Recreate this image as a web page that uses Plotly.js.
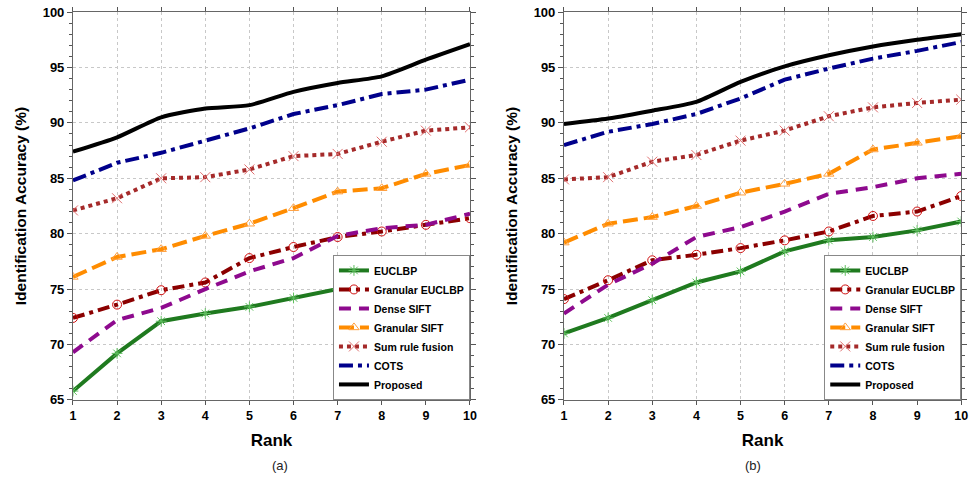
<!DOCTYPE html>
<html><head><meta charset="utf-8">
<script src="https://cdn.plot.ly/plotly-3.0.1.min.js"></script>
<style>html,body{margin:0;padding:0;background:#fff}#chart{width:969px;height:483px}</style>
</head><body><div id="chart"></div>
<script>
const ranks = [1,2,3,4,5,6,7,8,9,10];
const seriesNames = ["EUCLBP","Granular EUCLBP","Dense SIFT","Granular SIFT","Sum rule fusion","COTS","Proposed"];
// Panel (a)
const a_EUCLBP       = [65.8,69.2,72.1,72.8,73.4,74.2,75.0,75.0,75.8,76.6];
const a_GranEUCLBP   = [72.4,73.6,74.9,75.6,77.8,78.8,79.7,80.2,80.8,81.4];
const a_DenseSIFT    = [69.3,72.2,73.3,75.0,76.6,77.8,79.8,80.5,80.8,81.8];
const a_GranSIFT     = [76.1,77.9,78.6,79.8,80.9,82.3,83.8,84.1,85.4,86.2];
const a_SumRule      = [82.1,83.2,85.0,85.1,85.8,87.0,87.2,88.3,89.3,89.6];
const a_COTS         = [84.8,86.4,87.3,88.4,89.5,90.8,91.6,92.6,93.0,93.9];
const a_Proposed     = [87.4,88.7,90.5,91.3,91.6,92.8,93.6,94.2,95.7,97.1];
// Panel (b)
const b_EUCLBP       = [71.0,72.4,74.0,75.6,76.6,78.4,79.4,79.7,80.3,81.1];
const b_GranEUCLBP   = [74.1,75.8,77.6,78.1,78.7,79.4,80.2,81.6,82.0,83.4];
const b_DenseSIFT    = [72.8,75.4,77.3,79.7,80.6,82.0,83.6,84.2,85.0,85.4];
const b_GranSIFT     = [79.2,80.9,81.5,82.5,83.7,84.5,85.4,87.6,88.2,88.8];
const b_SumRule      = [84.9,85.1,86.5,87.1,88.4,89.3,90.6,91.4,91.8,92.1];
const b_COTS         = [88.0,89.2,89.9,90.8,92.2,93.9,94.9,95.8,96.5,97.3];
const b_Proposed     = [89.9,90.4,91.1,91.9,93.7,95.1,96.1,96.9,97.5,98.0];

const panelA = [a_EUCLBP,a_GranEUCLBP,a_DenseSIFT,a_GranSIFT,a_SumRule,a_COTS,a_Proposed];
const panelB = [b_EUCLBP,b_GranEUCLBP,b_DenseSIFT,b_GranSIFT,b_SumRule,b_COTS,b_Proposed];

const styles = [
  {line:{color:'#1f7a1f',width:4,dash:'solid'}, marker:{symbol:'asterisk-open',size:9,color:'#5fbf5f',line:{width:1,color:'#5fbf5f'}}, mode:'lines+markers'},
  {line:{color:'#8b0000',width:4,dash:'12px,5px,4px,5px'}, marker:{symbol:'circle-open',size:9,color:'#d01010',line:{width:1,color:'#d01010'}}, mode:'lines+markers'},
  {line:{color:'#8e0a8e',width:4,dash:'12px,8px'}, mode:'lines'},
  {line:{color:'#ff8c00',width:4,dash:'15px,6px'}, marker:{symbol:'triangle-up-open',size:9,color:'#ffa040',line:{width:1,color:'#ffa040'}}, mode:'lines+markers'},
  {line:{color:'#a52a2a',width:4,dash:'4px,4px'}, marker:{symbol:'x-thin-open',size:10,color:'#e07070',line:{width:1,color:'#e07070'}}, mode:'lines+markers'},
  {line:{color:'#00008b',width:4,dash:'14px,5px,4px,5px'}, mode:'lines'},
  {line:{color:'#000000',width:4,dash:'solid',shape:'spline',smoothing:0.6}, mode:'lines'}
];

const traces = [];
[[panelA,'x','y','legend'],[panelB,'x2','y2','legend2']].forEach(([panel,xa,ya,lg])=>{
  panel.forEach((vals,i)=>{
    const s = styles[i];
    const t = {x:ranks, y:vals, name:seriesNames[i], type:'scatter', mode:s.mode, line:s.line, xaxis:xa, yaxis:ya, legend:lg, showlegend:true};
    if (s.marker) t.marker = s.marker;
    traces.push(t);
  });
});

const FONT = 'Liberation Sans, Arial, sans-serif';
function xax(dom, anchor){
  return {domain:dom, anchor:anchor, range:[1,10], tickvals:ranks, ticks:'outside', ticklen:4, tickcolor:'#555',
    showline:true, linecolor:'#666', linewidth:1, mirror:'allticks', showgrid:true, gridcolor:'#c8c8c8', griddash:'dot', gridwidth:1,
    zeroline:false, tickfont:{family:FONT,size:12.5,color:'#000',weight:'bold'},
    title:{text:'Rank', font:{family:FONT,size:17,color:'#000',weight:'bold'}, standoff:12}};
}
function yax(dom, anchor){
  return {domain:dom, anchor:anchor, range:[65,100], dtick:5, tick0:65, ticks:'outside', ticklen:5, tickcolor:'#555',
    minor:{dtick:1, ticks:'outside', ticklen:3, tickcolor:'#555', showgrid:false},
    showline:true, linecolor:'#666', linewidth:1, mirror:'allticks', showgrid:true, gridcolor:'#c8c8c8', griddash:'dot', gridwidth:1,
    zeroline:false, tickfont:{family:FONT,size:13,color:'#000',weight:'bold'},
    title:{text:'Identification Accuracy (%)', font:{family:FONT,size:15.5,color:'#000',weight:'bold'}, standoff:12}};
}
const legStyle = (x)=>({x:x, y:0.172, xanchor:'right', yanchor:'bottom', bgcolor:'#fff', bordercolor:'#888', borderwidth:1,
  font:{family:FONT,size:10.5,color:'#000',weight:'bold'}, tracegroupgap:0, itemwidth:30});

const layout = {
  width:969, height:483, margin:{l:0,r:0,t:0,b:0}, paper_bgcolor:'#fff', plot_bgcolor:'#fff',
  xaxis: xax([0.0753,0.485],'y'), yaxis: yax([0.172,0.975],'x'),
  xaxis2: xax([0.582,0.992],'y2'), yaxis2: yax([0.172,0.975],'x2'),
  legend: legStyle(0.485), legend2: legStyle(0.992),
  annotations:[
    {text:'(a)', xref:'paper', yref:'paper', x:0.279, y:0.037, yanchor:'middle', showarrow:false, font:{family:FONT,size:13,color:'#222'}},
    {text:'(b)', xref:'paper', yref:'paper', x:0.787, y:0.037, yanchor:'middle', showarrow:false, font:{family:FONT,size:13,color:'#222'}}
  ]
};
Plotly.newPlot('chart', traces, layout, {displayModeBar:false, staticPlot:true});
</script></body></html>
